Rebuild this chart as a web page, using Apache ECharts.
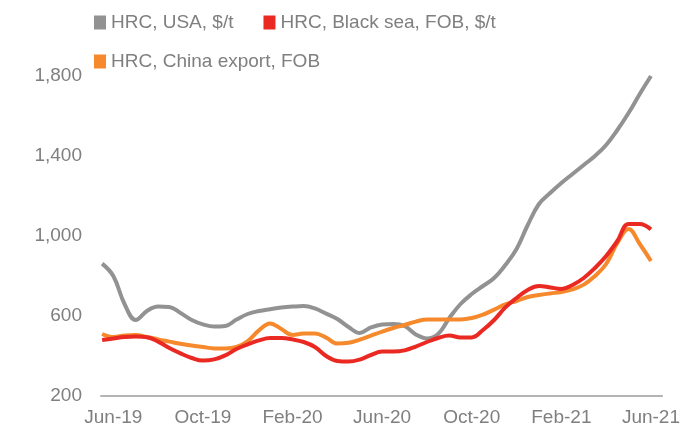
<!DOCTYPE html>
<html>
<head>
<meta charset="utf-8">
<script src="https://cdn.jsdelivr.net/npm/echarts@6/dist/echarts.min.js"></script>
<style>
  html, body { margin: 0; padding: 0; background: #ffffff; }
  #chart { width: 683px; height: 428px; }
</style>
</head>
<body>
<div id="chart"></div>
<script>
// Months counted from Jun-2019, sampled every half month
const months = [
  -0.5, 0, 0.5, 1, 1.5, 2, 2.5, 3, 3.5, 4, 4.5, 5, 5.5, 6, 6.5, 7, 7.5, 8, 8.5, 9,
  9.5, 10, 10.5, 11, 11.5, 12, 12.5, 13, 13.5, 14, 14.5, 15, 15.5, 16, 16.5, 17,
  17.5, 18, 18.5, 19, 19.5, 20, 20.5, 21, 21.5, 22, 22.5, 23, 23.5, 24
];

// HRC, USA, $/t
const usa = [
  862, 800, 660, 580, 625, 647, 645, 615, 580, 558, 547, 550, 582, 610, 625, 634, 642, 647, 650, 638,
  612, 585, 545, 515, 543, 558, 560, 550, 508, 488, 510, 590, 660, 710, 750, 790,
  855, 935, 1055, 1160, 1215, 1265, 1310, 1355, 1400, 1455, 1530, 1615, 1710, 1800
];

// HRC, Black sea, FOB, $/t
const blackSea = [
  480, 488, 495, 497, 494, 472, 440, 413, 390, 377, 383, 403, 435, 458, 478, 490, 490, 483, 470, 445,
  400, 375, 372, 382, 405, 422, 422, 428, 447, 470, 490, 502, 493, 493, 530, 580,
  643, 690, 730, 750, 743, 735, 755, 790, 840, 900, 975, 1060, 1060, 1033
];

// HRC, China export, FOB
const china = [
  510, 495, 502, 505, 495, 483, 472, 461, 452, 445, 438, 438, 445, 475, 528, 563, 535, 505, 512, 512,
  492, 462, 466, 482, 502, 522, 540, 555, 572, 583, 583, 583, 583, 590, 607, 632,
  658, 675, 695, 705, 713, 720, 733, 757, 800, 860, 965, 1035, 960, 875
];

// Axis tick labels
const tickMonths = [0, 4, 8, 12, 16, 20, 24];
const tickLabels = ['Jun-19', 'Oct-19', 'Feb-20', 'Jun-20', 'Oct-20', 'Feb-21', 'Jun-21'];
const yTicks = [200, 600, 1000, 1400, 1800];

const names = ['HRC, USA, $/t', 'HRC, Black sea, FOB, $/t', 'HRC, China export, FOB'];
const colors = { usa: '#929292', black: '#ea2a22', china: '#f5892c' };

const pairs = arr => months.map((m, i) => [m, arr[i]]);

const chart = echarts.init(document.getElementById('chart'), null, { renderer: 'canvas' });

const legendText = { color: '#7f7f7f', fontSize: 19, fontFamily: 'Liberation Sans, Arial, sans-serif' };
const axisFont = { color: '#7f7f7f', fontSize: 19, fontFamily: 'Liberation Sans, Arial, sans-serif' };

chart.setOption({
  animation: false,
  backgroundColor: '#ffffff',
  legend: [
    {
      data: [names[0], names[1]],
      left: 89, top: 8,
      itemWidth: 12, itemHeight: 14, itemGap: 30,
      icon: 'rect',
      textStyle: legendText
    },
    {
      data: [names[2]],
      left: 89, top: 47,
      itemWidth: 12, itemHeight: 14,
      icon: 'rect',
      textStyle: legendText
    }
  ],
  grid: { left: 101, right: 20, top: 76, bottom: 32, containLabel: false },
  xAxis: {
    type: 'value',
    min: -0.55,
    max: 24.5,
    splitLine: { show: false },
    axisTick: { show: false },
    axisLine: { show: true, lineStyle: { color: '#b4b4b4', width: 2 } },
    axisLabel: {
      ...axisFont,
      margin: 12,
      customValues: tickMonths,
      formatter: v => {
        const i = tickMonths.indexOf(Math.round(v));
        return i >= 0 ? tickLabels[i] : '';
      }
    }
  },
  yAxis: {
    type: 'value',
    min: yTicks[0],
    max: yTicks[yTicks.length - 1],
    interval: 400,
    splitLine: { show: false },
    axisTick: { show: false },
    axisLine: { show: false },
    axisLabel: {
      ...axisFont,
      margin: 19,
      formatter: v => v.toLocaleString('en-US')
    }
  },
  series: [
    {
      name: names[0], type: 'line', data: pairs(usa), smooth: 0.4,
      showSymbol: false, color: colors.usa,
      lineStyle: { width: 4, color: colors.usa }
    },
    {
      name: names[2], type: 'line', data: pairs(china), smooth: 0.4,
      showSymbol: false, color: colors.china,
      lineStyle: { width: 4, color: colors.china }
    },
    {
      name: names[1], type: 'line', data: pairs(blackSea), smooth: 0.4,
      showSymbol: false, color: colors.black,
      lineStyle: { width: 4, color: colors.black }
    }
  ]
});
</script>
</body>
</html>
